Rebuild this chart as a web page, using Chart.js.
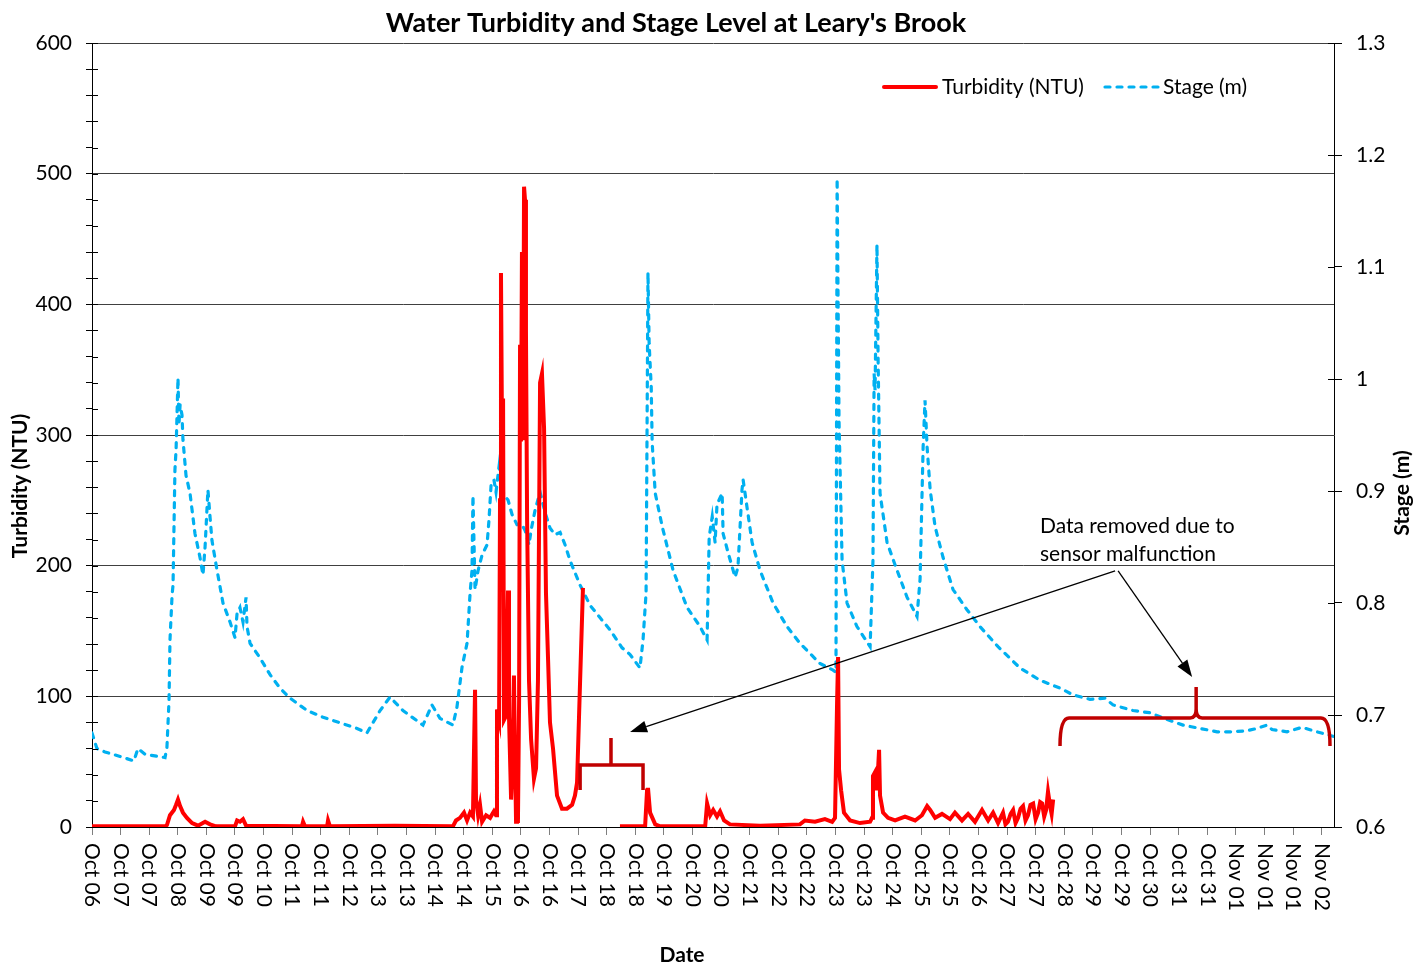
<!DOCTYPE html>
<html>
<head>
<meta charset="utf-8">
<title>Water Turbidity and Stage Level at Leary's Brook</title>
<script src="https://cdn.jsdelivr.net/npm/chart.js@4.4.1/dist/chart.umd.min.js"></script>
<style>
  html, body { margin: 0; padding: 0; background: #fff; }
  canvas { display: block; }
</style>
</head>
<body>
<canvas id="chart" width="1426" height="966"></canvas>
<script>
const chartTitle = "Water Turbidity and Stage Level at Leary's Brook";

// x values are hours since the first reading, one date label every 15 h
const tickStep = 15;
const xMax = 651.4;
const tickLabels = [
  'Oct 06', 'Oct 07', 'Oct 07', 'Oct 08', 'Oct 09', 'Oct 09', 'Oct 10', 'Oct 11', 'Oct 11',
  'Oct 12', 'Oct 13', 'Oct 13', 'Oct 14', 'Oct 14', 'Oct 15', 'Oct 16', 'Oct 16', 'Oct 17',
  'Oct 18', 'Oct 18', 'Oct 19', 'Oct 20', 'Oct 20', 'Oct 21', 'Oct 22', 'Oct 22', 'Oct 23',
  'Oct 23', 'Oct 24', 'Oct 25', 'Oct 25', 'Oct 26', 'Oct 27', 'Oct 27', 'Oct 28', 'Oct 29',
  'Oct 29', 'Oct 30', 'Oct 31', 'Oct 31', 'Nov 01', 'Nov 01', 'Nov 01', 'Nov 02'
];

// turbidity (NTU), null = data removed
const turbHours = [
  0, 38.3, 39.3, 40.9, 43.0, 44.1, 45.1, 46.2, 47.7, 49.8, 52.5, 55.6, 59.3, 61.9, 65.0, 75.0,
  76.1, 77.6, 79.2, 80.8, 110.1, 110.7, 111.7, 123.3, 123.8, 124.8, 158.9, 189.3, 190.9, 193.0,
  195.1, 196.7, 198.3, 199.8, 200.4, 200.9, 201.4, 202.5, 203.5, 204.6, 206.7, 208.8, 210.8,
  211.9, 212.4, 213.5, 214.0, 214.5, 215.1, 215.6, 216.1, 217.1, 218.2, 218.7, 219.8, 220.3,
  221.3, 221.9, 222.4, 222.9, 223.4, 224.0, 224.5, 225.0, 225.5, 226.1, 226.6, 227.1, 227.6,
  228.2, 229.2, 230.3, 231.8, 232.9, 233.9, 235.0, 236.0, 237.1, 238.1, 239.2, 240.2, 241.8,
  243.9, 246.5, 249.1, 251.8, 253.3, 254.4, 256.0, 257.5, 266, 276.9, 290.1, 291.1, 291.6,
  292.7, 295.4, 298.0, 321.6, 322.6, 324.2, 325.8, 327.8, 329.4, 331.5, 334.6, 350.4, 371.3,
  373.9, 379.2, 384.4, 388.2, 389.7, 390.8, 391.3, 391.8, 392.9, 394.4, 397.6, 402.8, 408.1,
  409.1, 409.6, 410.7, 411.7, 412.8, 413.3, 414.9, 417.5, 421.2, 426.4, 431.7, 435.3, 438.0,
  439.6, 442.2, 445.8, 450.0, 452.6, 456.3, 459.5, 463.1, 466.8, 470.0, 472.6, 475.2, 477.8,
  479.1, 480.4, 481.8, 483.1, 484.4, 485.7, 487.0, 488.3, 489.6, 490.9, 492.2, 493.6, 494.9,
  496.2, 497.3, 498.3, 499.4, 500.4, 501.4, 502.5, 503.3, 504.1
];
const turbNTU = [
  0.5, 0.5, 1.5, 9, 13, 17, 21, 16, 11, 7, 3, 1, 4, 2, 0.5, 0.5,
  5, 4, 6, 1, 0.5, 4, 0.5, 0.5, 5, 0.5, 1, 0.5, 5, 7,
  11, 5, 11, 8, 63, 105, 21, 9, 17, 4, 9, 7, 12,
  9, 90, 82, 250, 424, 288, 328, 82, 85, 181, 85, 21, 40,
  116, 51, 4, 54, 3, 97, 369, 295, 440, 296, 490, 480, 380,
  235, 112, 67, 37, 45, 112, 340, 347, 305, 179, 128, 80, 60,
  24, 14, 14, 17, 24, 34, 112, 183, null, 0.5, 0.5, 28, 30,
  11, 2, 0.5, 0.5, 18, 9, 13, 8, 12, 5, 2, 1, 2,
  5, 4, 6, 4, 7, 97, 130, 44, 28, 11, 5, 3, 4,
  7, 39, 42, 28, 59, 24, 11, 7, 5, 8, 5, 9, 16,
  13, 7, 10, 6, 11, 5, 10, 4, 13, 5, 11, 3, 11,
  2, 4, 10, 13, 3, 7, 14, 16, 5, 9, 17, 18, 6,
  11, 19, 18, 8, 13, 27, 16, 10, 21
];

// stage (m)
const stageHours = [
  0, 2.6, 6.8, 14.7, 22.0, 24.1, 27.8, 34.6, 38.3, 39.3, 40.4, 40.9, 42.0, 42.5, 43.5, 44.1,
  45.1, 45.6, 46.2, 47.2, 47.7, 49.3, 51.4, 54.0, 56.6, 58.2, 59.3, 60.8, 61.9, 62.9, 65.6,
  68.7, 72.4, 75.0, 76.1, 77.6, 79.2, 80.8, 81.3, 82.9, 88.1, 93.4, 98.6, 103.9, 112.8, 121.2,
  130.1, 139.0, 144.2, 151.1, 156.3, 163.1, 173.6, 178.3, 182.5, 189.3, 191.4, 194.1, 196.7,
  198.3, 199.3, 199.8, 200.9, 202.5, 204.6, 207.2, 208.2, 209.3, 210.8, 211.9, 213.5, 214.5,
  216.1, 218.2, 220.3, 222.9, 225.5, 227.1, 229.2, 230.3, 232.4, 235.0, 237.6, 240.2, 242.8,
  245.5, 248.1, 250.7, 256.0, 261.2, 266.4, 271.7, 278.0, 282.2, 287.4, 289.0, 290.6, 291.6,
  292.2, 293.3, 293.8, 295.4, 299.1, 304.8, 312.1, 318.9, 322.6, 323.7, 325.3, 326.8, 327.8,
  330.5, 331.0, 333.6, 337.3, 338.8, 340.9, 341.5, 343.5, 346.2, 350.4, 357.2, 364.5, 371.3,
  381.8, 388.7, 390.2, 390.8, 391.8, 393.4, 396.0, 401.2, 408.1, 409.6, 410.2, 410.7, 411.7,
  412.3, 413.3, 417.0, 421.2, 427.5, 432.7, 434.3, 435.9, 436.9, 438.0, 439.6, 442.2, 446.3,
  451.6, 458.9, 465.7, 475.2, 486.7, 497.2, 507.7, 514.5, 523.4, 531.3, 535.5, 546.0, 554.9,
  563.8, 572.2, 581.1, 590.1, 598.5, 605.8, 611.0, 616.3, 618.9, 626.8, 634.6, 642.5, 650.9
];
const stageM = [
  0.684, 0.670, 0.667, 0.663, 0.659, 0.670, 0.665, 0.663, 0.662, 0.671, 0.713, 0.767, 0.807, 0.816, 0.919, 0.937,
  1.001, 0.959, 0.977, 0.968, 0.946, 0.914, 0.898, 0.862, 0.841, 0.825, 0.850, 0.901, 0.877, 0.856, 0.829,
  0.800, 0.783, 0.769, 0.791, 0.796, 0.783, 0.805, 0.779, 0.764, 0.751, 0.736, 0.724, 0.715, 0.704, 0.698,
  0.693, 0.688, 0.684, 0.704, 0.716, 0.704, 0.691, 0.709, 0.697, 0.691, 0.707, 0.743, 0.764,
  0.809, 0.829, 0.896, 0.812, 0.829, 0.843, 0.852, 0.874, 0.905, 0.910, 0.899, 0.922, 0.910,
  0.896, 0.892, 0.879, 0.870, 0.870, 0.865, 0.852, 0.865, 0.883, 0.899, 0.881, 0.867, 0.861,
  0.863, 0.852, 0.838, 0.816, 0.798, 0.787, 0.776, 0.760, 0.754, 0.742, 0.767, 0.809, 1.095,
  1.032, 0.993, 0.943, 0.898, 0.868, 0.829, 0.796, 0.779, 0.767, 0.859, 0.877, 0.854, 0.888,
  0.898, 0.862, 0.845, 0.823, 0.832, 0.901, 0.910, 0.886, 0.854, 0.829, 0.800, 0.779, 0.764,
  0.746, 0.740, 0.738, 1.179, 0.963, 0.838, 0.800, 0.779, 0.761, 0.838, 1.005, 0.990, 1.120,
  1.017, 0.898, 0.854, 0.834, 0.805, 0.788, 0.821, 0.939, 0.981, 0.939, 0.901, 0.868, 0.841,
  0.812, 0.794, 0.779, 0.761, 0.742, 0.731, 0.724, 0.718, 0.714, 0.715, 0.709, 0.704, 0.702,
  0.696, 0.691, 0.688, 0.685, 0.685, 0.686, 0.688, 0.691, 0.687, 0.685, 0.689, 0.685, 0.681
];

const noteLines = ['Data removed due to', 'sensor malfunction'];

function pairs(xs, ys) {
  return xs.map((x, i) => ({ x: x, y: ys[i] }));
}

Chart.defaults.font.family = 'Lato';
Chart.defaults.color = '#000';

function arrow(ctx, x0, y0, x1, y1) {
  const ang = Math.atan2(y1 - y0, x1 - x0);
  const len = 17, half = 6;
  const bx = x1 - len * Math.cos(ang), by = y1 - len * Math.sin(ang);
  ctx.beginPath();
  ctx.moveTo(x0, y0);
  ctx.lineTo(bx, by);
  ctx.stroke();
  ctx.beginPath();
  ctx.moveTo(x1, y1);
  ctx.lineTo(bx + half * Math.sin(ang), by - half * Math.cos(ang));
  ctx.lineTo(bx - half * Math.sin(ang), by + half * Math.cos(ang));
  ctx.closePath();
  ctx.fill();
}

// titles, rotated date labels, legend, brackets and the note
const overlay = {
  id: 'overlay',
  afterDraw(chart) {
    const { ctx, chartArea: area, scales } = chart;
    const x = scales.x, y = scales.y, y1 = scales.y1;
    ctx.save();

    // inner half of the tick marks
    ctx.strokeStyle = '#000';
    ctx.lineWidth = 1;
    y.ticks.forEach(t => {
      const py = Math.round(y.getPixelForValue(t.value)) + 0.5;
      ctx.beginPath(); ctx.moveTo(area.left, py); ctx.lineTo(area.left + 6, py); ctx.stroke();
    });
    y1.ticks.forEach(t => {
      const py = Math.round(y1.getPixelForValue(t.value)) + 0.5;
      ctx.beginPath(); ctx.moveTo(area.right - 6, py); ctx.lineTo(area.right, py); ctx.stroke();
    });

    // date labels, read top to bottom
    ctx.fillStyle = '#000';
    ctx.font = '21px Lato';
    ctx.textAlign = 'left';
    ctx.textBaseline = 'middle';
    x.ticks.forEach(t => {
      const label = tickLabels[Math.round(t.value / tickStep)];
      if (!label) return;
      ctx.save();
      ctx.translate(x.getPixelForValue(t.value), area.bottom + 16);
      ctx.rotate(Math.PI / 2);
      ctx.fillText(label, 0, 0);
      ctx.restore();
    });

    // titles
    ctx.textAlign = 'center';
    ctx.font = 'bold 27px Lato';
    ctx.fillText(chartTitle, 676, 23);
    ctx.font = 'bold 21px Lato';
    ctx.fillText('Date', 682, 955);
    ctx.save(); ctx.translate(20, 486); ctx.rotate(-Math.PI / 2); ctx.fillText('Turbidity (NTU)', 0, 0); ctx.restore();
    ctx.save(); ctx.translate(1402, 493); ctx.rotate(-Math.PI / 2); ctx.fillText('Stage (m)', 0, 0); ctx.restore();

    // legend
    const ds = chart.data.datasets;
    ctx.font = '21px Lato';
    ctx.textAlign = 'left';
    ctx.lineCap = 'round';
    ctx.strokeStyle = ds[0].borderColor;
    ctx.lineWidth = 4;
    ctx.beginPath(); ctx.moveTo(884, 87); ctx.lineTo(936, 87); ctx.stroke();
    ctx.fillText(ds[0].label, 942, 87);
    ctx.strokeStyle = ds[1].borderColor;
    ctx.lineWidth = ds[1].borderWidth;
    ctx.setLineDash(ds[1].borderDash);
    ctx.beginPath(); ctx.moveTo(1105, 87); ctx.lineTo(1158, 87); ctx.stroke();
    ctx.setLineDash([]);
    ctx.fillText(ds[1].label, 1163, 87);

    // brackets over the removed data
    ctx.strokeStyle = '#C00000';
    ctx.lineWidth = 3.5;
    ctx.lineCap = 'butt';
    ctx.lineJoin = 'miter';
    let x0 = x.getPixelForValue(256.0), x1 = x.getPixelForValue(289.0), xm = x.getPixelForValue(272.2);
    let yl = y.getPixelForValue(47.4), ye = y.getPixelForValue(28.3), yt = y.getPixelForValue(68.1);
    ctx.beginPath();
    ctx.moveTo(x0, ye); ctx.lineTo(x0, yl); ctx.lineTo(x1, yl); ctx.lineTo(x1, ye);
    ctx.moveTo(xm, yl); ctx.lineTo(xm, yt);
    ctx.stroke();

    x0 = x.getPixelForValue(507.7); x1 = x.getPixelForValue(649.3); xm = x.getPixelForValue(579.1);
    yl = y.getPixelForValue(83.4); ye = y.getPixelForValue(62.0); yt = y.getPixelForValue(107.1);
    const r = 9;
    ctx.beginPath();
    ctx.moveTo(x0, ye);
    ctx.quadraticCurveTo(x0, yl, x0 + r, yl);
    ctx.lineTo(xm - 6, yl);
    ctx.quadraticCurveTo(xm, yl, xm, yl - 9);
    ctx.lineTo(xm, yt);
    ctx.moveTo(xm, yl - 9);
    ctx.quadraticCurveTo(xm, yl, xm + 6, yl);
    ctx.lineTo(x1 - r, yl);
    ctx.quadraticCurveTo(x1, yl, x1, ye);
    ctx.stroke();

    // note and arrows
    ctx.fillStyle = '#000';
    ctx.strokeStyle = '#000';
    ctx.lineWidth = 1.3;
    ctx.font = '21px Lato';
    ctx.textAlign = 'left';
    ctx.fillText(noteLines[0], x.getPixelForValue(497.2), y.getPixelForValue(230.4));
    ctx.fillText(noteLines[1], x.getPixelForValue(497.2), y.getPixelForValue(208.9));
    const sx = x.getPixelForValue(536.6), sy = y.getPixelForValue(196);
    arrow(ctx, sx, sy, x.getPixelForValue(282.2), y.getPixelForValue(72.7));
    arrow(ctx, sx + 3, sy, x.getPixelForValue(577.0), y.getPixelForValue(114.8));

    ctx.restore();
  }
};

new Chart(document.getElementById('chart'), {
  type: 'line',
  data: {
    datasets: [
      {
        label: 'Turbidity (NTU)',
        data: pairs(turbHours, turbNTU),
        borderColor: '#FF0000',
        borderWidth: 4,
        pointRadius: 0,
        tension: 0,
        spanGaps: false,
        yAxisID: 'y'
      },
      {
        label: 'Stage (m)',
        data: pairs(stageHours, stageM),
        borderColor: '#00B0F0',
        borderWidth: 3.2,
        borderDash: [5, 7],
        borderCapStyle: 'round',
        pointRadius: 0,
        tension: 0,
        yAxisID: 'y1'
      }
    ]
  },
  options: {
    responsive: false,
    animation: false,
    devicePixelRatio: 1,
    layout: { padding: { top: 43, left: 0, right: 0, bottom: 0 } },
    plugins: { legend: { display: false }, title: { display: false }, tooltip: { enabled: false } },
    scales: {
      x: {
        type: 'linear',
        min: 0,
        max: xMax,
        afterFit: s => { s.height = 139; },
        ticks: { display: false, stepSize: tickStep, includeBounds: false },
        grid: { drawOnChartArea: false, drawTicks: true, tickLength: 8, tickColor: '#7f7f7f' },
        border: { color: '#000' }
      },
      y: {
        position: 'left',
        min: 0,
        max: 600,
        afterFit: s => { s.width = 92; },
        ticks: {
          stepSize: 20, autoSkip: false, padding: 14, color: '#000', font: { size: 21 },
          callback: v => (v % 100 === 0 ? v : '')
        },
        grid: {
          color: c => (c.tick && c.tick.value % 100 === 0 ? '#404040' : 'rgba(0,0,0,0)'),
          tickColor: '#000', tickLength: 6
        },
        border: { color: '#000' }
      },
      y1: {
        position: 'right',
        min: 0.6,
        max: 1.3,
        afterFit: s => { s.width = 92; },
        ticks: {
          stepSize: 0.1, padding: 14, color: '#000', font: { size: 21 },
          callback: v => String(parseFloat(v.toFixed(1)))
        },
        grid: { drawOnChartArea: false, tickColor: '#000', tickLength: 8 },
        border: { color: '#000' }
      }
    }
  },
  plugins: [overlay]
});
</script>
</body>
</html>
